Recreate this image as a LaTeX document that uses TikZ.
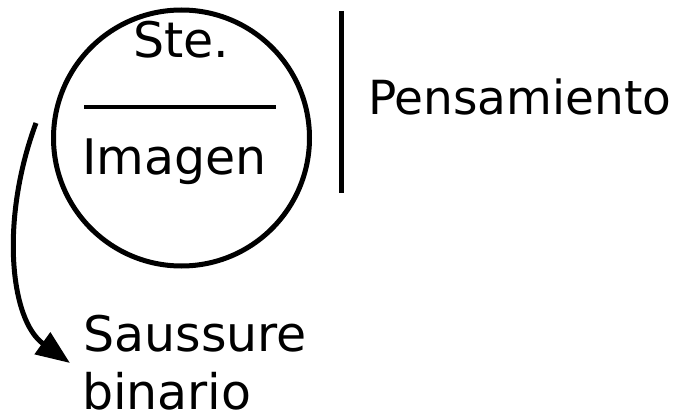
\documentclass[tikz,border=0pt]{standalone}
\usepackage{fontspec}
\setmainfont{DejaVu Sans}
\usetikzlibrary{arrows.meta}
\tikzset{
  lbl/.style={anchor=base west, inner sep=0pt, outer sep=0pt},
  ring/.style={draw, circle, line width=5pt, minimum size=256pt, inner sep=0pt},
  bar/.style={line width=5pt},
  rule/.style={line width=3.2pt},
  arc/.style={line width=5pt, -{Triangle[length=34pt,width=26pt]}}
}
\begin{document}
\begin{tikzpicture}[x=1pt,y=-1pt]
\useasboundingbox (0,0) rectangle (681,412);
\node[ring] (circ) at (181.5,138) {};
\node[lbl] (ste) at (133.5,58) {\fontsize{49}{58}\selectfont Ste.};
\node[lbl] (img) at (82,175) {\fontsize{49}{58}\selectfont Imagen};
\node[lbl] (pens) at (368,115) {\fontsize{47}{56}\selectfont Pensamiento};
\node[lbl] (sau) at (83.5,351) {\fontsize{49}{58}\selectfont Saussure};
\node[lbl] (bin) at (82,409) {\fontsize{49}{58}\selectfont binario};
\coordinate (ruleL) at (84,107);
\coordinate (ruleR) at (276,107);
\draw[rule] (ruleL) -- (ruleR);
\coordinate (barT) at (341,11);
\coordinate (barB) at (341,193);
\draw[bar] (barT) -- (barB);
\coordinate (arcS) at (36,123);
\coordinate (arcE) at (70,363);
\draw[arc] (arcS) .. controls (0,220) and (10,320) .. (arcE);
\end{tikzpicture}
\end{document}
